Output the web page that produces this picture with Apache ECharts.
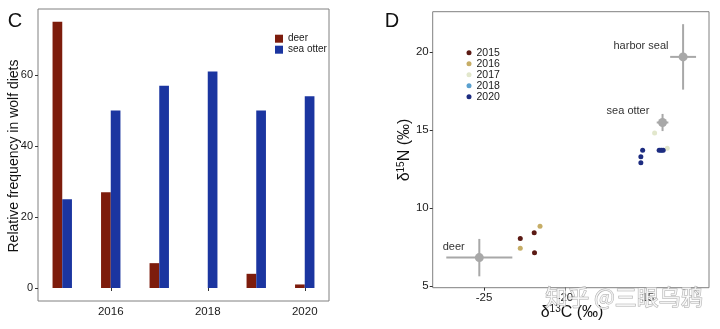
<!DOCTYPE html>
<html>
<head>
<meta charset="utf-8">
<script src="https://cdn.jsdelivr.net/npm/echarts@6/dist/echarts.min.js"></script>
<style>html,body{margin:0;padding:0;background:#fff;}#c{width:720px;height:329px;}</style>
</head>
<body>
<div id="c"></div>
<script>
// Panel C data
const years = ['2015','2016','2017','2018','2019','2020'];
const deer = [75, 27, 7, 0, 4, 1];
const seaOtter = [25, 50, 57, 61, 50, 54];
const xTicksC = ['2016','2018','2020'];
const yTicksC = [0, 20, 40, 60];

// Panel D data: prey sources (mean ± sd)
const sources = ['deer','harbor seal','sea otter'];
const srcC = [-25.29, -12.7, -13.97];
const srcN = [6.82, 19.7, 15.49];
const srcCsd = [2.04, 0.8, 0.36];
const srcNsd = [1.2, 2.1, 0.55];

// Panel D data: wolves by year [d13C, d15N]
const wolfYears = ['2015','2016','2017','2018','2020'];
const wolf2015 = [[-22.76, 8.04], [-21.9, 8.42], [-21.88, 7.14]];
const wolf2016 = [[-22.76, 7.42], [-21.54, 8.83]];
const wolf2017 = [[-14.46, 14.82], [-13.68, 13.84]];
const wolf2018 = [[-14.1, 13.71]];
const wolf2020 = [[-15.2, 13.71], [-15.31, 13.3], [-15.31, 12.9], [-14.18, 13.71], [-14.03, 13.71], [-13.93, 13.71]];
const xTicksD = [-25, -20, -15];
const yTicksD = [5, 10, 15, 20];

const FONT = 'Liberation Sans, Arial, sans-serif';
const wolfData = [wolf2015, wolf2016, wolf2017, wolf2018, wolf2020];
const wolfColors = ['#5b1a14', '#c6ad66', '#e2e7cc', '#5aa0cf', '#1d2c80'];
const GRAY = '#a8a8a8';

const chart = echarts.init(document.getElementById('c'), null, {renderer: 'canvas'});

const srcData = sources.map((s, i) => [srcC[i], srcN[i], srcCsd[i], srcNsd[i]]);

const option = {
  backgroundColor: '#fff',
  animation: false,
  textStyle: {fontFamily: FONT},
  grid: [
    {left: 38, top: 9, width: 291, height: 292, show: true, borderColor: '#808080', borderWidth: 1, backgroundColor: 'transparent'},
    {left: 432.7, top: 11.7, width: 276.3, height: 276, show: true, borderColor: '#808080', borderWidth: 1, backgroundColor: 'transparent'}
  ],
  xAxis: [
    {
      gridIndex: 0, type: 'category', data: years, boundaryGap: true,
      axisLine: {show: false},
      axisTick: {show: true, alignWithLabel: true, length: 3, lineStyle: {color: '#333'},
        interval: (i) => xTicksC.includes(years[i])},
      axisLabel: {interval: (i) => xTicksC.includes(years[i]), color: '#1a1a1a', fontSize: 11.5, margin: 5, fontFamily: FONT},
      splitLine: {show: false}
    },
    {
      gridIndex: 1, type: 'value', min: -28.17, max: -11.1,
      axisLine: {show: false},
      axisTick: {show: true, length: 3, lineStyle: {color: '#333'}, customValues: xTicksD},
      axisLabel: {customValues: xTicksD, color: '#1a1a1a', fontSize: 11.5, margin: 4, fontFamily: FONT},
      splitLine: {show: false}
    }
  ],
  yAxis: [
    {
      gridIndex: 0, type: 'value', min: -3.66, max: 78.6,
      axisLine: {show: false},
      axisTick: {show: true, length: 3, lineStyle: {color: '#333'}, customValues: yTicksC},
      axisLabel: {customValues: yTicksC, color: '#1a1a1a', fontSize: 11, margin: 5, fontFamily: FONT},
      splitLine: {show: false}
    },
    {
      gridIndex: 1, type: 'value', min: 4.89, max: 22.6,
      axisLine: {show: false},
      axisTick: {show: true, length: 3, lineStyle: {color: '#333'}, customValues: yTicksD},
      axisLabel: {customValues: yTicksD, color: '#1a1a1a', fontSize: 11.5, margin: 4, fontFamily: FONT},
      splitLine: {show: false}
    }
  ],
  legend: [
    {
      data: ['deer', 'sea otter'], orient: 'vertical', left: 275, top: 33.2, padding: 0,
      icon: 'rect', itemWidth: 8, itemHeight: 8, itemGap: 0, itemTextGap: 4.3,
      textStyle: {fontSize: 10, lineHeight: 11, color: '#1a1a1a', fontFamily: FONT},
      selectedMode: false
    },
    {
      data: wolfYears, orient: 'vertical', left: 466.5, top: 47.3, padding: 0,
      icon: 'circle', itemWidth: 5, itemHeight: 5, itemGap: 0, itemTextGap: 2,
      textStyle: {fontSize: 10.5, lineHeight: 8.7, color: '#1a1a1a', fontFamily: FONT},
      selectedMode: false
    }
  ],
  series: [
    {name: 'deer', type: 'bar', xAxisIndex: 0, yAxisIndex: 0, data: deer, barWidth: 9.7, barGap: '0%',
      itemStyle: {color: '#7d1c0c'}},
    {name: 'sea otter', type: 'bar', xAxisIndex: 0, yAxisIndex: 0, data: seaOtter, barWidth: 9.7, barGap: '0%',
      itemStyle: {color: '#1b35a0'}},
    {
      name: 'sources', type: 'custom', xAxisIndex: 1, yAxisIndex: 1, data: srcData,
      encode: {x: 0, y: 1},
      renderItem: function (params, api) {
        const x = api.value(0), y = api.value(1), sx = api.value(2), sy = api.value(3);
        const c = api.coord([x, y]);
        const l = api.coord([x - sx, y]), r = api.coord([x + sx, y]);
        const t = api.coord([x, y + sy]), b = api.coord([x, y - sy]);
        return {type: 'group', children: [
          {type: 'line', shape: {x1: l[0], y1: l[1], x2: r[0], y2: r[1]}, style: {stroke: GRAY, lineWidth: 2}},
          {type: 'line', shape: {x1: t[0], y1: t[1], x2: b[0], y2: b[1]}, style: {stroke: GRAY, lineWidth: 2}},
          {type: 'circle', shape: {cx: c[0], cy: c[1], r: 4.5}, style: {fill: GRAY}}
        ]};
      }
    }
  ].concat(wolfYears.map((yr, i) => ({
    name: yr, type: 'scatter', xAxisIndex: 1, yAxisIndex: 1, data: wolfData[i],
    symbol: 'circle', symbolSize: 5, itemStyle: {color: wolfColors[i], opacity: 1}
  }))),
  graphic: [
    {type: 'text', x: 15, y: 21, style: {text: 'C', fontSize: 20, fill: '#111', align: 'center', verticalAlign: 'middle', fontFamily: FONT}},
    {type: 'text', x: 392, y: 21.7, style: {text: 'D', fontSize: 20, fill: '#111', align: 'center', verticalAlign: 'middle', fontFamily: FONT}},
    {type: 'text', x: 14, y: 156, rotation: Math.PI / 2, style: {text: 'Relative frequency in wolf diets', fontSize: 14, fill: '#111', align: 'center', verticalAlign: 'middle', fontFamily: FONT}},
    {type: 'text', x: 405, y: 150, rotation: Math.PI / 2, style: {
      text: '{a|δ}{s|15}{a|N (‰)}', align: 'center', verticalAlign: 'middle', fill: '#111', fontFamily: FONT,
      rich: {a: {fontSize: 16, lineHeight: 18, fill: '#111', fontFamily: FONT}, s: {fontSize: 10, lineHeight: 10, verticalAlign: 'top', fill: '#111', fontFamily: FONT}}
    }},
    {type: 'text', x: 572, y: 313, style: {
      text: '{a|δ}{s|13}{a|C (‰)}', align: 'center', verticalAlign: 'middle', fill: '#111', fontFamily: FONT,
      rich: {a: {fontSize: 16, lineHeight: 18, fill: '#111', fontFamily: FONT}, s: {fontSize: 10, lineHeight: 10, verticalAlign: 'top', fill: '#111', fontFamily: FONT}}
    }},
    {type: 'text', x: 641, y: 45.7, style: {text: 'harbor seal', fontSize: 11, fill: '#333', align: 'center', verticalAlign: 'middle', fontFamily: FONT}},
    {type: 'text', x: 628, y: 111, style: {text: 'sea otter', fontSize: 11, fill: '#333', align: 'center', verticalAlign: 'middle', fontFamily: FONT}},
    {type: 'text', x: 453.7, y: 247, style: {text: 'deer', fontSize: 11, fill: '#333', align: 'center', verticalAlign: 'middle', fontFamily: FONT}},
    {type: 'text', x: 624, y: 297, z: 100, style: {text: '知乎 @三眼乌鸦', fontSize: 22, fill: 'rgba(255,255,255,0.75)', stroke: 'rgba(150,150,150,0.8)', lineWidth: 1, align: 'center', verticalAlign: 'middle', fontFamily: 'Noto Sans CJK SC'}}
  ]
};
chart.setOption(option);
</script>
</body>
</html>
